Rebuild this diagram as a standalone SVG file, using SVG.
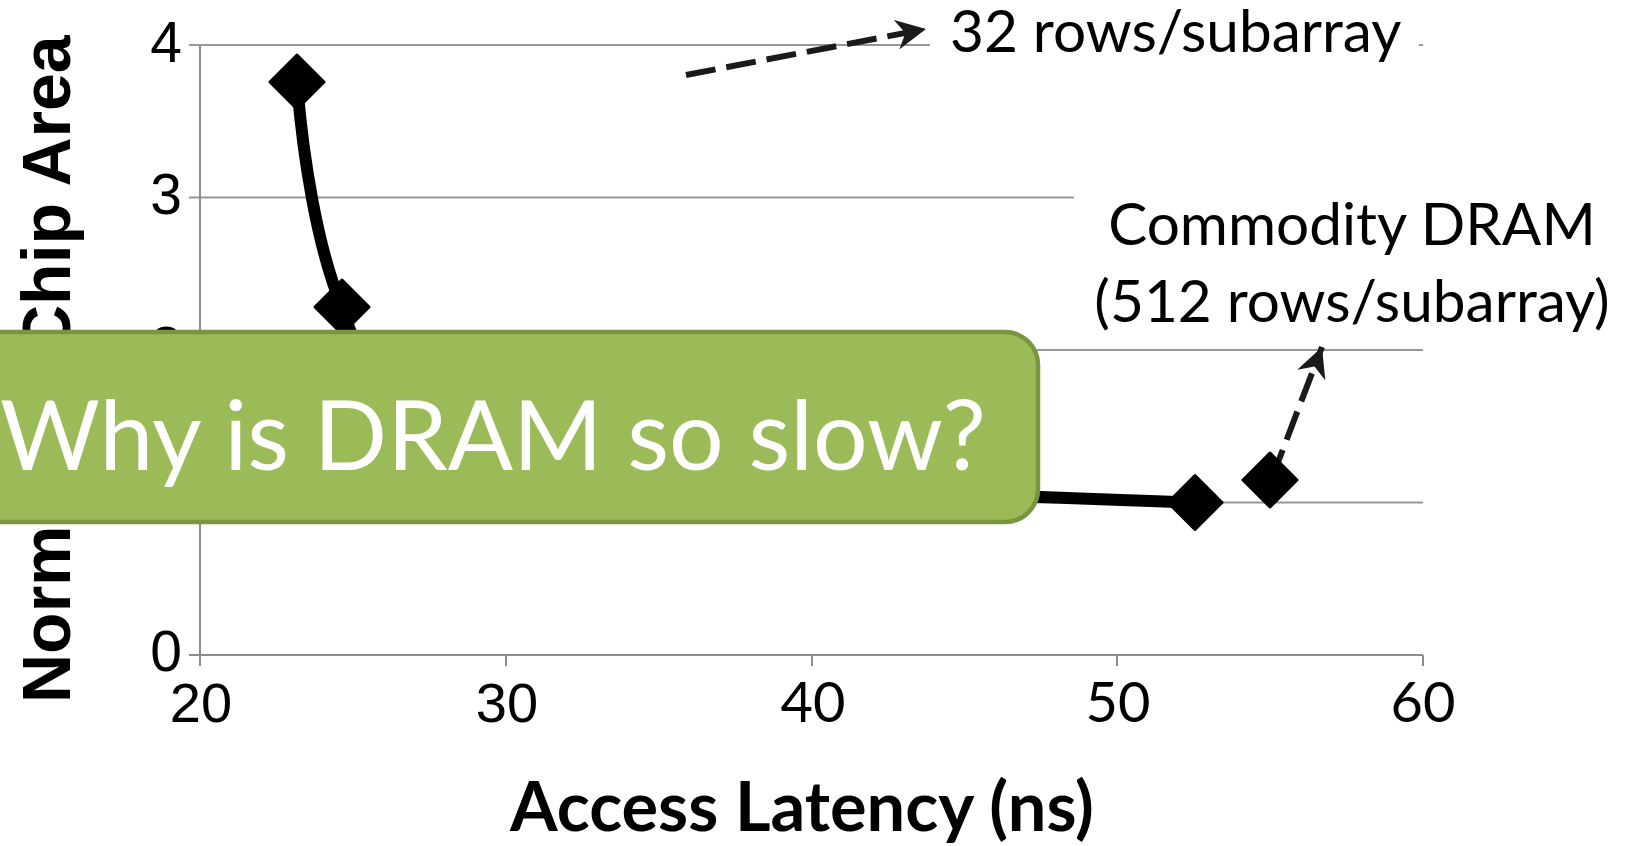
<svg xmlns="http://www.w3.org/2000/svg" width="1632" height="846" viewBox="0 0 1632 846">
<style>
.grid{stroke:#969696;stroke-width:2;fill:none}
.axis{stroke:#8c8c8c;stroke-width:2;fill:none}
.ytick{font-family:"Liberation Sans",Arial,sans-serif;font-size:57px;fill:#000;text-anchor:end}
.xtick{font-family:"Liberation Sans",Arial,sans-serif;font-size:56px;fill:#000;text-anchor:middle}
.xtick2{font-family:Lato,"Liberation Sans",sans-serif;font-size:56px;fill:#000;text-anchor:middle}
.lbl{font-family:Lato,"Liberation Sans",sans-serif;font-size:58.5px;fill:#000}
.series{stroke:#000;stroke-width:12;fill:none;stroke-linejoin:round;stroke-linecap:round}
.dia{fill:#000;stroke:#000;stroke-width:3;stroke-linejoin:round}
.dash{stroke:#1a1a1a;stroke-width:6;fill:none;stroke-dasharray:30 11}
</style>
<defs>
<marker id="ah" viewBox="0 0 10 10" refX="10" refY="5" markerUnits="userSpaceOnUse" markerWidth="30" markerHeight="30" orient="auto">
<path d="M0,0 L10,5 L0,10 L3,5 Z" fill="#1a1a1a"/>
</marker>
<path id="diamond" d="M0,-27 L27,0 L0,27 L-27,0 Z"/>
</defs>
<rect width="1632" height="846" fill="#fff"/>
<g id="chart">
<g id="gridlines">
<line class="grid" x1="189" y1="45" x2="1423" y2="45"/>
<line class="grid" x1="189" y1="197.5" x2="1423" y2="197.5"/>
<line class="grid" x1="189" y1="350" x2="1423" y2="350"/>
<line class="grid" x1="189" y1="502.5" x2="1423" y2="502.5"/>
</g>
<g id="axes">
<line class="axis" x1="200" y1="45" x2="200" y2="666"/>
<line class="axis" x1="189" y1="655" x2="1423" y2="655"/>
<line class="axis" x1="506" y1="655" x2="506" y2="666"/>
<line class="axis" x1="812" y1="655" x2="812" y2="666"/>
<line class="axis" x1="1117" y1="655" x2="1117" y2="666"/>
<line class="axis" x1="1423" y1="655" x2="1423" y2="666"/>
</g>
<g id="y-ticks">
<text class="ytick" x="182" y="62">4</text>
<text class="ytick" x="182" y="214">3</text>
<text class="ytick" x="182" y="367">2</text>
<text class="ytick" x="182" y="671">0</text>
</g>
<g id="x-ticks">
<text class="xtick" x="201" y="722">20</text>
<text class="xtick" x="507" y="722">30</text>
<text class="xtick2" x="813" y="722">40</text>
<text class="xtick2" x="1118" y="722">50</text>
<text class="xtick2" x="1423" y="722">60</text>
</g>
<text id="y-title" x="-703" y="70" transform="rotate(-90)" font-family="'Liberation Sans',Arial,sans-serif" font-weight="bold" font-size="68">Normalized <tspan x="-354">Chip Area</tspan></text>
<text id="x-title" x="802" y="831" font-family="Lato,'Liberation Sans',sans-serif" font-weight="bold" font-size="68.5" text-anchor="middle">Access Latency (ns)</text>
</g>
<g id="connectors">
<path class="series" d="M297,82 C303,160 318,250 342,307 C360,360 380,420 430,450 C520,480 900,492 1195,502.5"/>
<line class="dash" x1="686" y1="75" x2="926" y2="29" marker-end="url(#ah)"/>
<line class="dash" x1="1272" y1="478" x2="1322" y2="347" marker-end="url(#ah)"/>
</g>
<g id="points">
<use href="#diamond" class="dia" x="297" y="82"/>
<use href="#diamond" class="dia" x="342" y="307"/>
<use href="#diamond" class="dia" x="1195" y="502.5"/>
<use href="#diamond" class="dia" x="1270" y="480"/>
</g>
<g id="label-32">
<rect x="930" y="2" width="489" height="88" fill="#fff"/>
<text class="lbl" x="950" y="52">32 rows/subarray</text>
</g>
<g id="label-commodity">
<rect x="1074" y="160" width="558" height="180" fill="#fff"/>
<text class="lbl" x="1352" y="245" text-anchor="middle">Commodity DRAM</text>
<text class="lbl" x="1352" y="322" text-anchor="middle">(512 rows/subarray)</text>
</g>
<g id="banner">
<rect x="-40" y="332" width="1078" height="190" rx="33" fill="#9BBB59" stroke="#7A953F" stroke-width="4.5"/>
<text x="0" y="470" font-family="Lato,'Liberation Sans',sans-serif" font-size="96.5" fill="#fff">Why is DRAM so slow?</text>
</g>
</svg>
